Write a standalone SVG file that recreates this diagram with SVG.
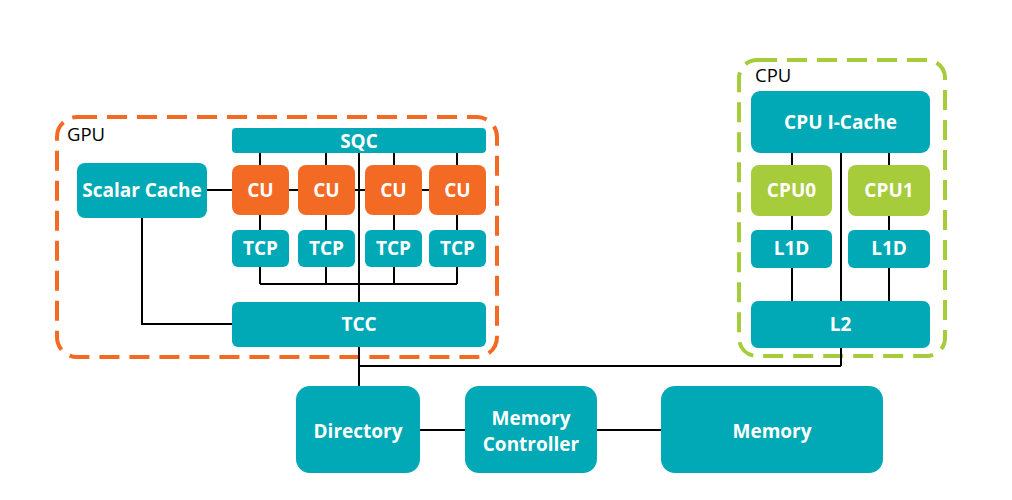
<svg xmlns="http://www.w3.org/2000/svg" width="1012" height="500" viewBox="0 0 1012 500">
<style>
.n{fill:#00A9B5}
.cu{fill:#F26A24}
.cp{fill:#A6CB3B}
.t{font-family:"Open Sans","Noto Sans",sans-serif;font-weight:bold;font-size:19px;fill:#fff;text-anchor:middle}
.lbl{font-family:"Open Sans","Noto Sans",sans-serif;font-size:18.5px;fill:#000}
.w{stroke:#000;stroke-width:2;fill:none}
.g{fill:none;stroke-width:4;stroke-dasharray:20 10}
</style>
<rect width="1012" height="500" fill="#fff"/>
<g id="gpu-group">
<rect class="g" x="57" y="117" width="440" height="240" rx="20" stroke="#F26A24"/>
<text class="lbl" x="67" y="141">GPU</text>
</g>
<g id="cpu-group">
<rect class="g" x="739" y="60" width="206" height="296" rx="18" stroke="#A6CB3B"/>
<text class="lbl" x="755" y="82">CPU</text>
</g>
<g id="connectors">
<path class="w" d="M207 190H429"/>
<path class="w" d="M260 153V284M326 153V284M394 153V284M457 153V284M260 284H457"/>
<path class="w" d="M359 153V386"/>
<path class="w" d="M142 218V324H232"/>
<path class="w" d="M792 153V301M889 153V301M841 153V366"/>
<path class="w" d="M359 366H841"/>
<path class="w" d="M420 430H465M597 430H661"/>
</g>
<g id="sqc"><rect class="n" x="232" y="128" width="254" height="25" rx="4"/><text class="t" x="359" y="148">SQC</text></g>
<g id="scalar-cache"><rect class="n" x="77" y="163" width="130" height="55" rx="8"/><text class="t" x="142" y="197">Scalar Cache</text></g>
<g id="cu0"><rect class="cu" x="232" y="165" width="57" height="50" rx="8"/><text class="t" x="260.5" y="197">CU</text></g>
<g id="cu1"><rect class="cu" x="298" y="165" width="57" height="50" rx="8"/><text class="t" x="326.5" y="197">CU</text></g>
<g id="cu2"><rect class="cu" x="365" y="165" width="57" height="50" rx="8"/><text class="t" x="393.5" y="197">CU</text></g>
<g id="cu3"><rect class="cu" x="429" y="165" width="57" height="50" rx="8"/><text class="t" x="457.5" y="197">CU</text></g>
<g id="tcp0"><rect class="n" x="232" y="230" width="57" height="37" rx="6"/><text class="t" x="260.5" y="255">TCP</text></g>
<g id="tcp1"><rect class="n" x="298" y="230" width="57" height="37" rx="6"/><text class="t" x="326.5" y="255">TCP</text></g>
<g id="tcp2"><rect class="n" x="365" y="230" width="57" height="37" rx="6"/><text class="t" x="393.5" y="255">TCP</text></g>
<g id="tcp3"><rect class="n" x="429" y="230" width="57" height="37" rx="6"/><text class="t" x="457.5" y="255">TCP</text></g>
<g id="tcc"><rect class="n" x="232" y="302" width="254" height="45" rx="6"/><text class="t" x="359" y="331">TCC</text></g>
<g id="cpu-icache"><rect class="n" x="751" y="91" width="179" height="62" rx="9"/><text class="t" x="840.5" y="129">CPU I-Cache</text></g>
<g id="cpu0"><rect class="cp" x="751" y="165" width="81" height="51" rx="8"/><text class="t" x="791.5" y="197">CPU0</text></g>
<g id="cpu1"><rect class="cp" x="848" y="165" width="82" height="51" rx="8"/><text class="t" x="889" y="197">CPU1</text></g>
<g id="l1d0"><rect class="n" x="751" y="230" width="81" height="38" rx="6"/><text class="t" x="791.5" y="255">L1D</text></g>
<g id="l1d1"><rect class="n" x="848" y="230" width="82" height="38" rx="6"/><text class="t" x="889" y="255">L1D</text></g>
<g id="l2"><rect class="n" x="751" y="301" width="179" height="47" rx="7"/><text class="t" x="840.5" y="331">L2</text></g>
<g id="directory"><rect class="n" x="296" y="386" width="124" height="87" rx="14"/><text class="t" x="358" y="438">Directory</text></g>
<g id="memory-controller"><rect class="n" x="465" y="386" width="132" height="87" rx="14"/><text class="t" x="531" y="425">Memory</text><text class="t" x="531" y="451">Controller</text></g>
<g id="memory"><rect class="n" x="661" y="386" width="222" height="87" rx="14"/><text class="t" x="772" y="438">Memory</text></g>
</svg>
